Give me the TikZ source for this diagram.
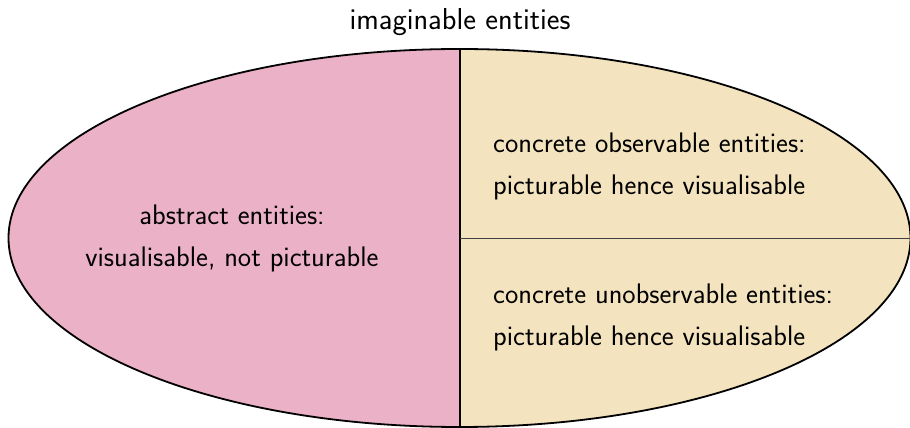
\documentclass[tikz,border=0pt]{standalone}
\usepackage{fontspec}
\usetikzlibrary{shapes.geometric}
\definecolor{abspink}{RGB}{235,177,198}
\definecolor{conbeige}{RGB}{243,227,190}
\begin{document}
\begin{tikzpicture}[x=1pt,y=1pt,
  lbl/.style={font=\sffamily\fontsize{28.3}{42}\selectfont, inner sep=0pt},
  rlbl/.style={lbl, align=left, anchor=west},
  clbl/.style={lbl, align=center}]
\useasboundingbox (0,0) rectangle (910,428);
\begin{scope}
  \clip (459.5,190) ellipse [x radius=451, y radius=189];
  \fill[abspink] (0,0) rectangle (460,428);
  \fill[conbeige] (460,0) rectangle (910,428);
\end{scope}
\node[ellipse, draw, line width=1.8pt, minimum width=902pt, minimum height=378pt, inner sep=0pt] (E) at (459.5,190) {};
\coordinate (vtop) at (460,379);
\coordinate (vbot) at (460,1);
\coordinate (hmid) at (460,190);
\draw[line width=1.2pt] (vtop) -- (vbot);
\draw[line width=0.9pt, black!75] (hmid) -- (E.east);
\node[lbl, font=\sffamily\fontsize{30.3}{36}\selectfont] (title) at (460,406) {imaginable entities};
\node[clbl] (abs) at (232,190) {abstract entities:\\visualisable, not picturable};
\node[rlbl] (obs) at (493,262) {concrete observable entities:\\picturable hence visualisable};
\node[rlbl] (unobs) at (493,111) {concrete unobservable entities:\\picturable hence visualisable};
\end{tikzpicture}
\end{document}
